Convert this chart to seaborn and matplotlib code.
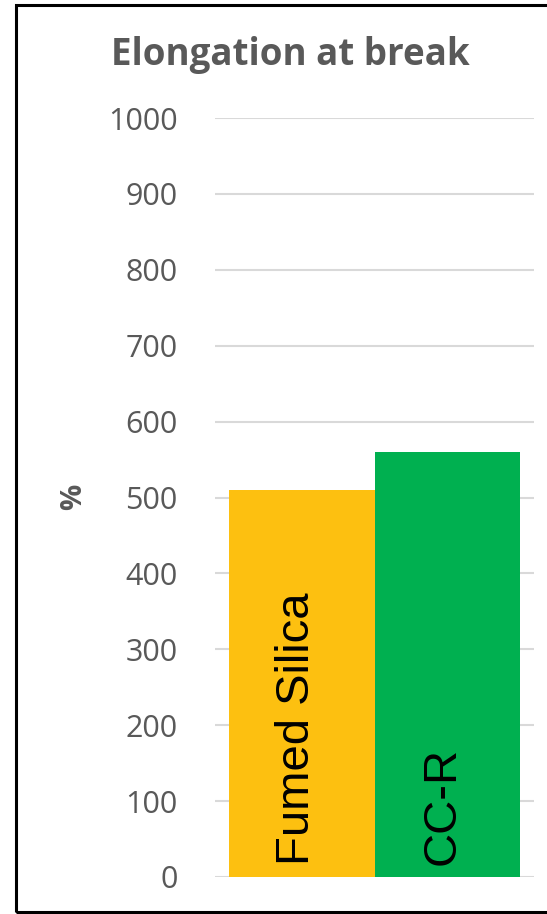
import matplotlib
matplotlib.use("Agg")
import matplotlib.pyplot as plt
import seaborn as sns
import pandas as pd
from matplotlib.patches import Rectangle

# Data
materials = ["Fumed Silica", "CC-R"]
elongation = [510, 560]
bar_colors = ["#FDC010", "#00B050"]
y_ticks = [0, 100, 200, 300, 400, 500, 600, 700, 800, 900, 1000]

sns.set_theme(style="white")
plt.rcParams["font.family"] = ["Open Sans", "DejaVu Sans"]

df = pd.DataFrame({"material": materials, "elongation": elongation})

fig = plt.figure(figsize=(5.47, 9.14), dpi=100)
ax = fig.add_axes([215 / 547, 1 - 877 / 914, (534 - 215) / 547, (877 - 118) / 914])

sns.barplot(data=df, x="material", y="elongation", hue="material",
            palette=bar_colors, width=1.0, saturation=1.0, legend=False, ax=ax,
            zorder=3)
for p in ax.patches:
    p.set_linewidth(0)

ax.set_xlim(-0.596, 1.596)
ax.set_ylim(0, 1000)
ax.set_yticks(y_ticks)
ax.set_yticklabels([str(t) for t in y_ticks], fontsize=22, color="#595959")
ax.set_xticks([])
ax.set_xlabel("")
ax.set_ylabel("")
ax.tick_params(axis="y", length=0, pad=27)
ax.yaxis.grid(True, color="#D9D9D9", linewidth=1.5, zorder=0)
ax.set_axisbelow(True)
for s in ax.spines.values():
    s.set_visible(False)

# Category names written inside the bars
for i, name in enumerate(materials):
    ax.text(i - 0.03, 16, name, rotation=90, ha="center", va="bottom",
            fontsize=34, color="black", family=["Liberation Sans", "DejaVu Sans"],
            zorder=4)

fig.text(290 / 547, 1 - 55 / 914, "Elongation at break", ha="center", va="center",
         fontsize=26.5, fontweight="bold", color="#595959")
fig.text(74 / 547, 1 - 497 / 914, "%", rotation=90, ha="center", va="center",
         fontsize=21, fontweight="bold", color="#595959")

# Outer frame
fig.patches.append(Rectangle((16 / 547, 1 - 912 / 914), (560 - 16) / 547, (912 - 5) / 914,
                             transform=fig.transFigure, fill=False,
                             edgecolor="black", linewidth=2.2))

fig.savefig("out.png", dpi=100)
